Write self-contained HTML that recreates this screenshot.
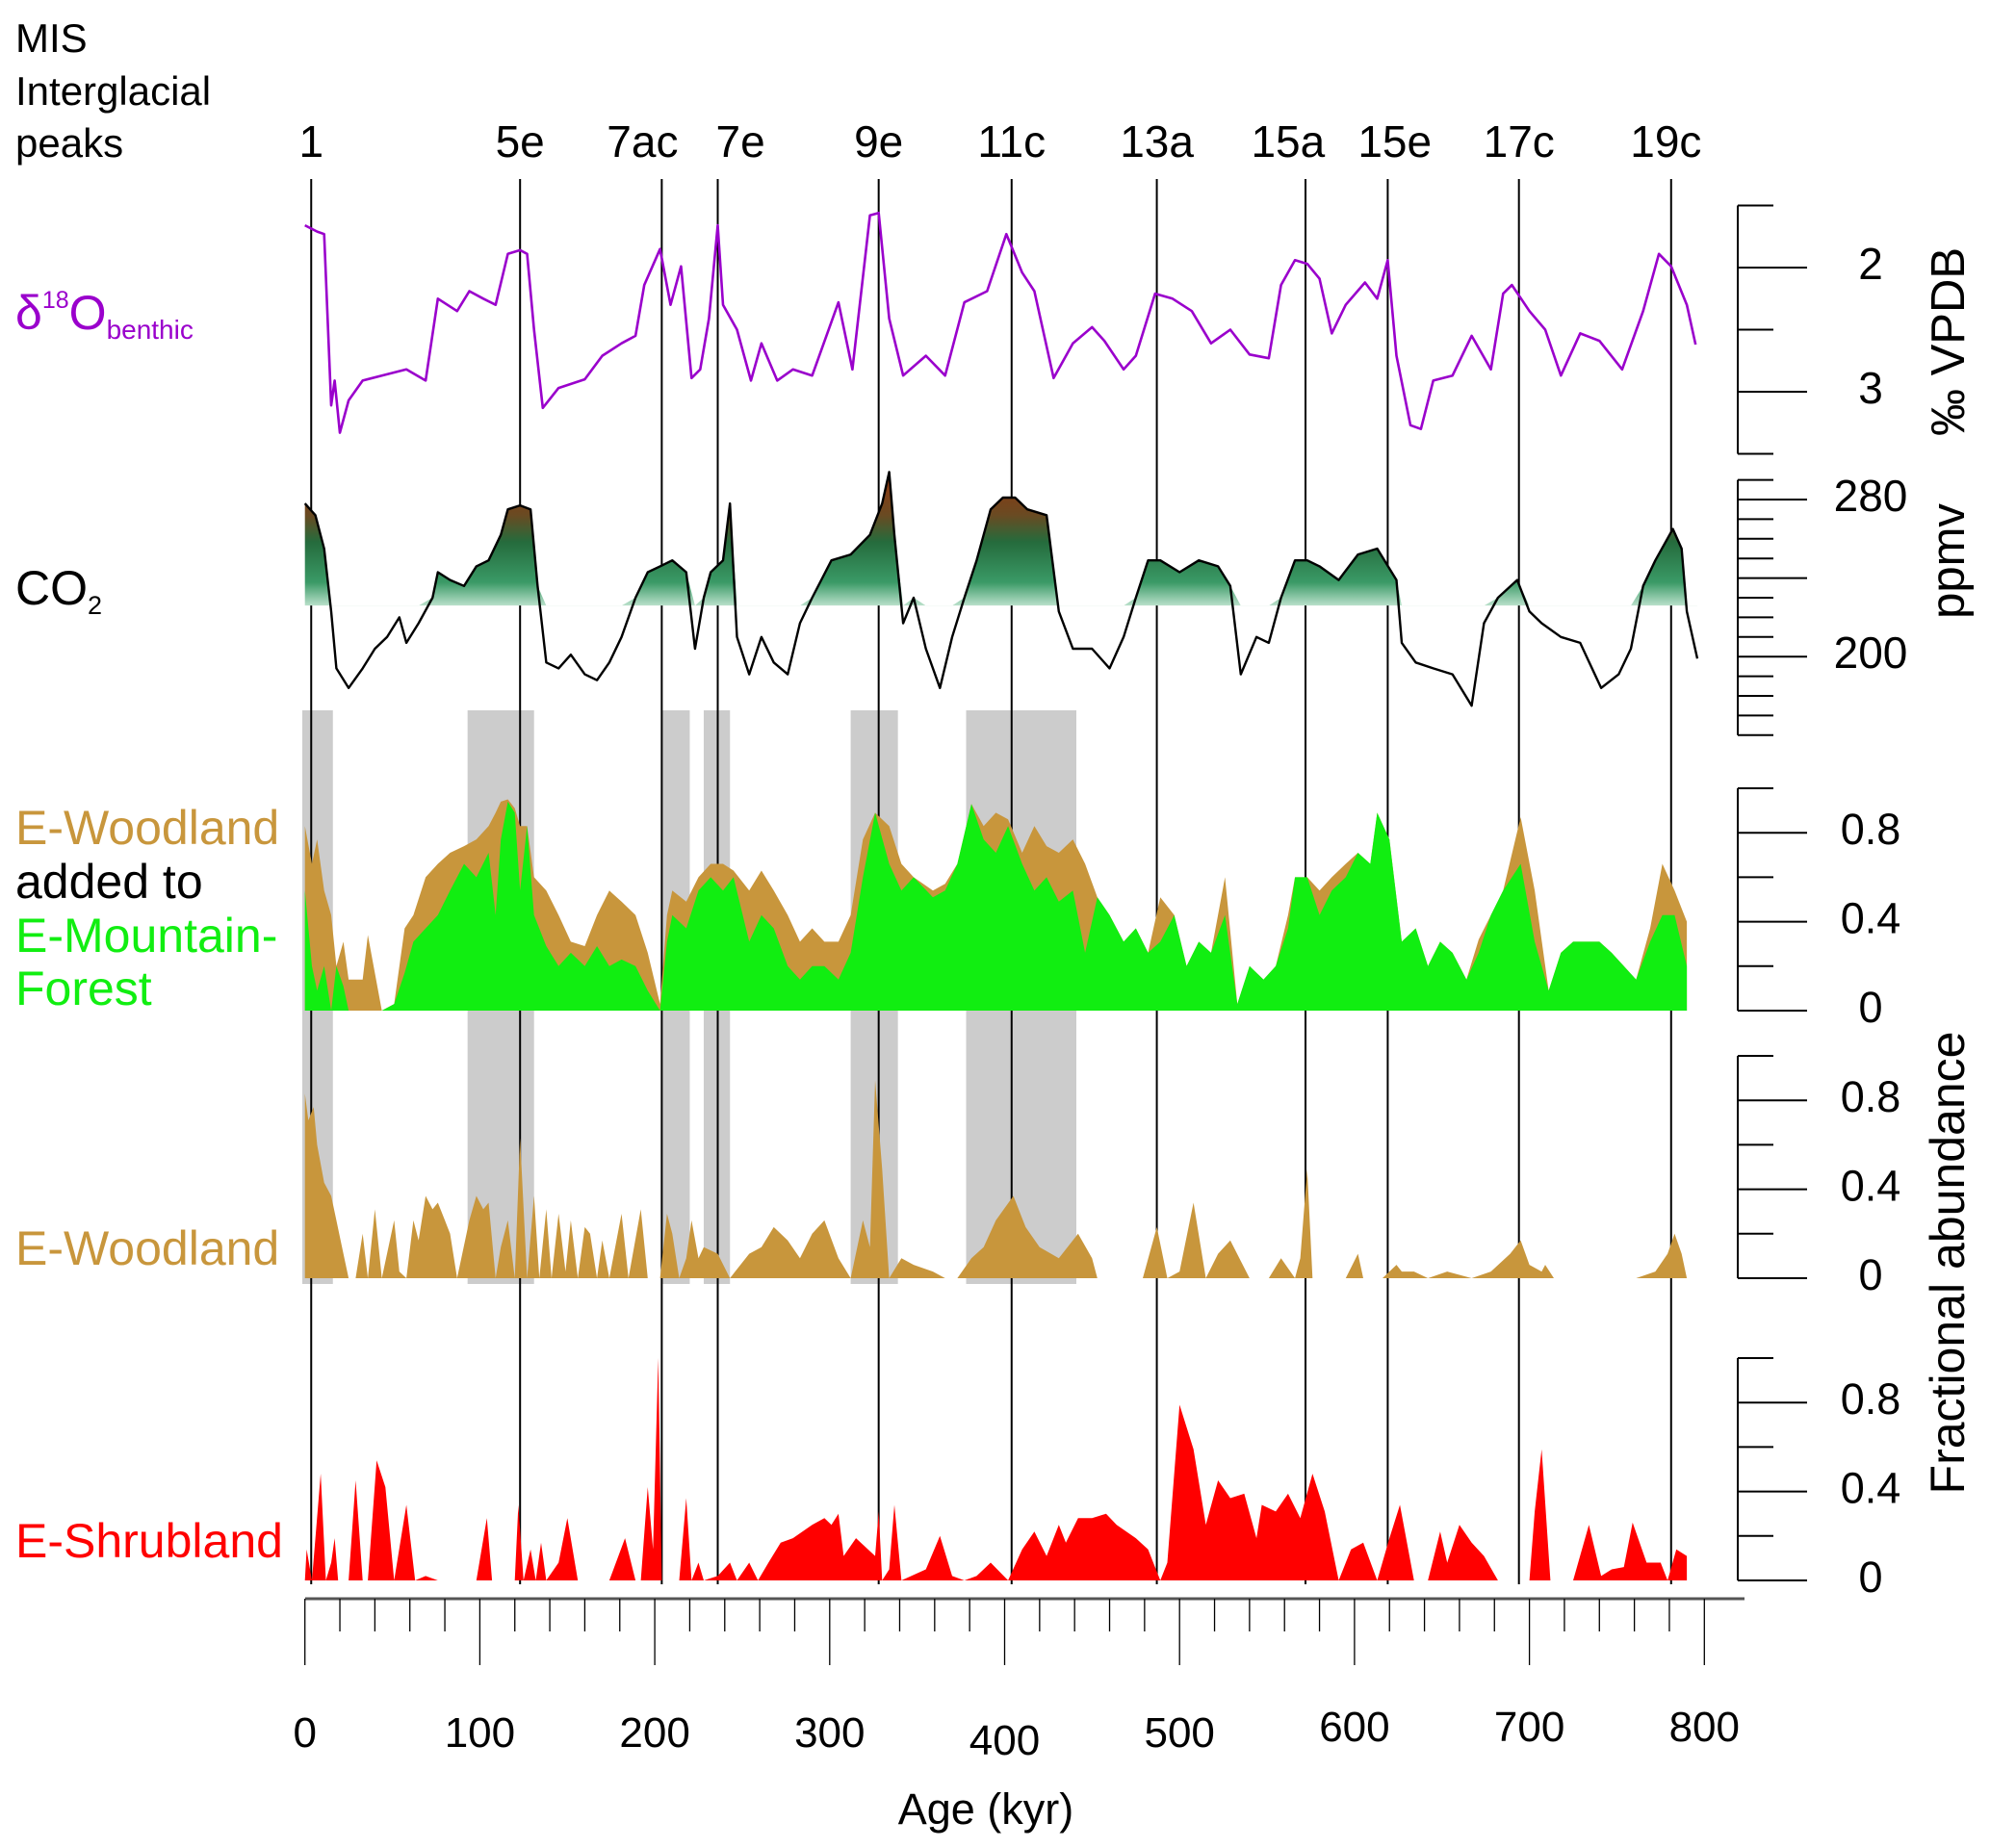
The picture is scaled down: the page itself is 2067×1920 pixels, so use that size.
<!DOCTYPE html>
<html><head><meta charset="utf-8">
<style>
html,body{margin:0;padding:0;background:#fff;}
svg{display:block;font-family:"Liberation Sans",sans-serif;}
</style></head>
<body>
<svg id="chart" width="2067" height="1920" viewBox="0 0 2067 1920" xmlns="http://www.w3.org/2000/svg">
<defs>
<linearGradient id="co2grad" gradientUnits="userSpaceOnUse" x1="0" y1="500" x2="0" y2="640">
<stop offset="0" stop-color="#8a3a12"/>
<stop offset="0.25" stop-color="#6a4a22"/>
<stop offset="0.45" stop-color="#256b3c"/>
<stop offset="0.75" stop-color="#3a9a66"/>
<stop offset="1" stop-color="#f2fff7"/>
</linearGradient>
</defs>
<g id="bands"></g>
<g id="mislines"></g>
<g id="plots"></g>
<g id="axes"></g>
<g font-size="50">
<text x="16" y="54" font-size="42">MIS</text>
<text x="16" y="109" font-size="42">Interglacial</text>
<text x="16" y="163" font-size="42">peaks</text>
<text x="16" y="342" fill="#9a00cc">δ<tspan font-size="25" dy="-22">18</tspan><tspan dy="22">O</tspan><tspan font-size="28" dy="10">benthic</tspan></text>
<text x="16" y="628" fill="#000">CO<tspan font-size="27" dy="10">2</tspan></text>
<text x="16" y="877" fill="#c8963c">E-Woodland</text>
<text x="16" y="933">added to</text>
<text x="16" y="989" fill="#11ee11">E-Mountain-</text>
<text x="16" y="1044" fill="#11ee11">Forest</text>
<text x="16" y="1314" fill="#c8963c">E-Woodland</text>
<text x="16" y="1618" fill="#ff0000">E-Shrubland</text>
</g>
<g font-size="49">
<text transform="translate(2040,355) rotate(-90)" text-anchor="middle">‰ VPDB</text>
<text transform="translate(2040,583) rotate(-90)" text-anchor="middle">ppmv</text>
<text transform="translate(2040,1312) rotate(-90)" text-anchor="middle" font-size="50">Fractional abundance</text>
</g>
<text x="1024" y="1895" font-size="45" text-anchor="middle">Age (kyr)</text>
</svg>
<script>
// ---- data ----
const misNames = ["1","5e","7ac","7e","9e","11c","13a","15a","15e","17c","19c"];
const misAges = [3.6,123,204,236,328,404,487,572,619,694,781];
const misLabelAges = [3.6,123,193,249,328,404,487,562,623,694,778];
const bandStart = [-1.5,93,204,228,312,378];
const bandEnd = [16,131,220,243,339,441];

const d18oAges = [0,7,11,15,17,20,25,33,44,58,69,76,87,94,102,109,116,123,127,131,136,145,160,170,181,189,194,203,209,215,221,226,231,236,239,247,255,261,270,279,290,305,313,323,328,334,342,355,366,377,390,401,410,417,428,439,450,457,468,475,486,496,507,518,529,540,551,558,566,573,580,587,595,606,613,619,624,632,638,645,656,667,678,685,690,700,709,718,729,740,753,765,774,781,790,795];
const d18oVals = [1.66,1.71,1.73,3.11,2.91,3.33,3.07,2.91,2.87,2.82,2.91,2.25,2.35,2.19,2.25,2.30,1.89,1.86,1.89,2.50,3.13,2.97,2.90,2.71,2.61,2.55,2.14,1.85,2.30,1.99,2.89,2.82,2.41,1.66,2.30,2.50,2.91,2.61,2.91,2.82,2.87,2.28,2.82,1.58,1.56,2.41,2.87,2.71,2.87,2.28,2.19,1.73,2.04,2.19,2.89,2.61,2.48,2.59,2.82,2.71,2.21,2.25,2.35,2.61,2.50,2.70,2.73,2.14,1.94,1.97,2.09,2.53,2.30,2.12,2.25,1.94,2.71,3.27,3.30,2.91,2.87,2.55,2.82,2.21,2.14,2.35,2.50,2.87,2.53,2.59,2.82,2.35,1.89,1.99,2.30,2.62];

const co2Ages = [0,6,11,15,18,25,33,40,47,54,58,65,73,76,83,91,98,105,112,116,123,129,133,138,145,152,160,167,174,181,189,196,203,210,218,223,228,232,239,243,247,254,261,268,276,283,290,301,312,323,330,334,337,342,348,355,363,370,377,384,392,399,406,413,424,431,439,450,460,468,475,482,489,500,511,522,529,535,544,551,558,566,573,580,591,602,613,624,627,635,645,656,667,674,682,693,700,707,718,729,741,751,758,765,772,782,787,790,796];
const co2Vals = [278,272,255,223,194,184,194,204,210,220,207,217,230,243,239,236,246,249,262,275,277,275,236,197,194,201,191,188,197,210,230,243,246,249,243,204,230,243,249,278,210,191,210,197,191,217,230,249,252,262,278,294,262,217,230,204,184,210,230,249,275,281,281,275,272,223,204,204,194,210,230,249,249,243,249,246,236,191,210,207,230,249,249,246,239,252,255,239,207,197,194,191,175,217,230,239,223,217,210,207,184,191,204,236,249,265,255,223,199];

const forestAges = [0,4,7,11,15,18,22,25,33,36,44,51,57,62,69,76,83,91,98,105,109,112,116,120,123,127,131,138,145,152,160,167,174,181,189,196,203,207,210,218,225,232,239,245,254,261,268,276,283,290,297,305,312,319,326,334,341,348,359,366,373,381,388,395,402,410,417,424,431,439,446,453,460,468,475,482,489,497,504,511,518,526,533,540,548,555,562,566,573,580,587,595,602,609,613,620,627,635,642,649,656,664,671,678,685,695,703,711,718,725,732,740,747,754,761,769,776,783,790];
const mountainForest = [.54,.20,.09,.20,0,.20,.11,0,0,0,0,.03,.17,.31,.37,.43,.54,.66,.60,.71,.43,.77,.94,.89,.54,.83,.43,.29,.20,.26,.20,.29,.20,.23,.20,.09,0,.31,.43,.37,.54,.60,.54,.60,.31,.43,.37,.20,.14,.20,.20,.14,.26,.60,.89,.66,.54,.60,.51,.54,.66,.93,.77,.71,.83,.66,.54,.60,.49,.54,.26,.51,.43,.31,.37,.26,.31,.43,.20,.31,.26,.43,.03,.20,.14,.20,.37,.60,.60,.43,.54,.60,.71,.66,.89,.77,.31,.37,.20,.31,.26,.14,.26,.43,.54,.66,.31,.09,.26,.31,.31,.31,.26,.20,.14,.31,.43,.43,.20];
const woodlandAdded = [.29,.46,.68,.34,.43,0,.20,.14,.14,.34,0,0,.20,.12,.23,.23,.17,.08,.17,.12,.46,.17,.01,.02,.29,0,.17,.25,.23,.05,.09,.14,.34,.26,.23,.17,.03,.12,.11,.12,.06,.06,.12,.03,.23,.20,.17,.23,.17,.17,.11,.17,.17,.17,0,.17,.12,0,.03,.03,0,0,.06,.18,.03,.05,.29,.14,.22,.23,.40,0,0,0,0,0,.2,0,0,0,0,.17,0,0,0,0,.06,0,0,.11,.06,.06,0,0,0,0,0,0,0,0,0,0,.06,0,0,.21,.23,0,0,0,0,0,0,0,0,.06,.23,.11,.2];

const woodAges = [0,2,5,7,11,15,18,22,25,29,33,36,40,44,51,54,58,62,65,69,73,76,80,83,87,94,98,102,105,109,112,116,120,123,127,131,134,138,141,145,149,152,156,160,163,167,170,174,181,185,192,196,203,207,210,214,218,221,225,228,236,243,254,261,268,276,283,290,297,305,312,319,323,326,330,334,341,348,359,366,373,381,388,395,405,412,420,431,442,450,453,464,479,487,493,500,508,515,522,529,540,551,558,566,569,573,576,595,602,605,616,624,627,634,642,653,667,678,689,695,700,707,709,714,761,772,779,783,787,790];
const woodVals = [.83,.71,.77,.60,.43,.37,.26,.11,0,0,.20,0,.31,0,.26,.03,0,.26,.17,.37,.31,.34,.26,.20,0,.26,.37,.31,.34,0,.14,.26,0,.63,0,.37,0,.31,0,.29,.03,.26,0,.23,.20,0,.17,0,.29,0,.31,0,0,.29,.20,0,.09,.26,.09,.14,.11,0,.11,.14,.23,.17,.09,.20,.26,.09,0,.26,.14,.89,.49,0,.09,.06,.03,0,0,.09,.14,.26,.37,.23,.14,.09,.20,.09,0,0,0,.23,0,.03,.34,0,.11,.17,0,0,.09,0,.09,.49,0,0,.11,0,0,.06,.03,.03,0,.03,0,.03,.11,.17,.06,.03,.06,0,0,.03,.11,.20,.11,0];

const shrubAges = [0,1,4,9,12,15,17,19,25,29,33,36,41,46,51,58,63,69,76,98,104,107,120,122,125,129,132,135,138,145,150,156,174,183,189,192,196,199,202,204,214,218,221,225,228,236,243,247,254,259,265,272,279,290,297,301,305,308,315,326,328,330,334,337,341,355,363,370,377,384,392,402,410,417,424,431,435,442,450,458,464,475,482,489,493,500,508,515,522,529,537,544,547,555,562,569,576,583,591,598,605,613,620,626,634,642,649,653,660,667,674,682,700,703,707,712,725,734,741,747,754,759,767,775,779,784,790];
const shrubVals = [0,.14,0,.48,0,.08,.19,0,0,.45,0,0,.54,.42,0,.34,0,.02,0,0,.28,0,0,.34,0,.14,0,.17,0,.08,.28,0,0,.19,0,0,.42,.14,1.0,0,0,.37,0,.08,0,.02,.08,0,.08,0,.08,.17,.19,.25,.28,.25,.3,.11,.19,.11,.31,0,.05,.34,0,.05,.2,.02,0,.02,.08,0,.14,.22,.11,.25,.17,.28,.28,.3,.25,.19,.14,0,.08,.79,.59,.25,.45,.37,.39,.19,.34,.31,.39,.28,.48,.31,0,.14,.17,0,.19,.34,0,0,.22,.08,.25,.17,.11,0,0,.31,.59,0,0,.25,.02,.05,.06,.26,.08,.08,0,.14,.11];

const xTickLabels = ["0","100","200","300","400","500","600","700","800"];
const d18oTickLabels = ["2","3"];
const co2TickLabels = ["280","200"];
const fracTickLabels = ["0.8","0.4","0"];

// ---- scales ----
const NS = "http://www.w3.org/2000/svg";
const X = a => 316.7 + a * 1.817;
const Yd = v => 278 + (v - 2) * 129;
const Yc = p => 519 + (280 - p) * 2.04;
const P3 = v => 1050 - v * 231;
const P4 = v => 1328 - v * 231;
const P5 = v => 1642 - v * 231;
function mk(tag, attrs, parent){const e=document.createElementNS(NS,tag);for(const k in attrs)e.setAttribute(k,attrs[k]);parent.appendChild(e);return e;}
const bands=document.getElementById('bands'), mis=document.getElementById('mislines'), plots=document.getElementById('plots'), axes=document.getElementById('axes');

for(let i=0;i<bandStart.length;i++){
  const r=mk('rect',{x:X(bandStart[i]),y:738,width:X(bandEnd[i])-X(bandStart[i]),height:596,fill:'#cccccc'},bands);
  
  
}
for(let i=0;i<misAges.length;i++){
  const l=mk('line',{x1:X(misAges[i]),x2:X(misAges[i]),y1:186,y2:1646,stroke:'#000','stroke-width':2},mis);
  
  
  const t=mk('text',{x:X(misLabelAges[i]),y:163,'font-size':46,'text-anchor':'middle'},axes);
  t.textContent=misNames[i];
  
  
}
function area(ages, vals, Y, fill, name){
  let d='M'+X(ages[0])+','+Y(0);
  for(let i=0;i<ages.length;i++) d+='L'+X(ages[i]).toFixed(1)+','+Y(vals[i]).toFixed(1);
  d+='L'+X(ages[ages.length-1])+','+Y(0)+'Z';
  const p=mk('path',{d:d,fill:fill},plots);
  
  
}
const totals = mountainForest.map((v,i)=>v+woodlandAdded[i]);
area(forestAges, totals, P3, '#c8963c', 'woodland-added-area');
area(forestAges, mountainForest, P3, '#11ee11', 'mountain-forest-area');
area(woodAges, woodVals, P4, '#c8963c', 'woodland-area');
area(shrubAges, shrubVals, P5, '#ff0000', 'shrubland-area');

const thr=226;
let fd='M'+X(co2Ages[0])+','+Yc(thr);
for(let i=0;i<co2Ages.length;i++) fd+='L'+X(co2Ages[i]).toFixed(1)+','+Yc(Math.max(co2Vals[i],thr)).toFixed(1);
fd+='L'+X(co2Ages[co2Ages.length-1])+','+Yc(thr)+'Z';
const cf=mk('path',{d:fd,fill:'url(#co2grad)'},plots);


function line(ages, vals, Y, color, w, name){
  const pts=ages.map((a,i)=>X(a).toFixed(1)+','+Y(vals[i]).toFixed(1)).join(' ');
  const p=mk('polyline',{points:pts,fill:'none',stroke:color,'stroke-width':w,'stroke-linejoin':'round'},plots);
  
  
}
line(co2Ages, co2Vals, Yc, '#000', 2.4, 'co2-line');
line(d18oAges, d18oVals, Yd, '#9a00cc', 2.6, 'd18o-line');

function raxis(vals, Y, longSet, labels, labelVals, name, fs){
  const g=mk('g',{},axes);
  
  
  mk('line',{x1:1805,x2:1805,y1:Y(vals[0]),y2:Y(vals[vals.length-1]),stroke:'#000','stroke-width':2},g);
  vals.forEach(v=>{
    const lg=longSet.some(s=>Math.abs(s-v)<1e-6);
    mk('line',{x1:1805,x2:lg?1877:1842,y1:Y(v),y2:Y(v),stroke:'#000','stroke-width':2},g);
  });
  labels.forEach((lab,i)=>{
    const t=mk('text',{x:1943,y:Y(labelVals[i])+12,'font-size':fs,'text-anchor':'middle'},g);
    t.textContent=lab;
  });
}
raxis([1.5,2,2.5,3,3.5], Yd, [2,3], d18oTickLabels, [2,3], 'd18o-axis', 46);
const co2Ticks=[]; for(let p=290;p>=160;p-=10) co2Ticks.push(p);
raxis(co2Ticks, Yc, [280,240,200], co2TickLabels, [280,200], 'co2-axis', 46);
const fr=[1,0.8,0.6,0.4,0.2,0];
raxis(fr, P3, [0.8,0.4,0], fracTickLabels, [0.8,0.4,0], 'forest-axis', 45);
raxis(fr, P4, [0.8,0.4,0], fracTickLabels, [0.8,0.4,0], 'woodland-axis', 45);
raxis(fr, P5, [0.8,0.4,0], fracTickLabels, [0.8,0.4,0], 'shrubland-axis', 45);

const xa=mk('g',{},axes);


mk('line',{x1:317,x2:1812,y1:1661,y2:1661,stroke:'#555','stroke-width':3},xa);
for(let a=0;a<=800;a+=20){
  const maj=a%100===0;
  mk('line',{x1:X(a),x2:X(a),y1:1661,y2:maj?1730:1695,stroke:'#000','stroke-width':1.3},xa);
}
const yOff=[0,0,0,0,8,0,-6,-6,-6];
xTickLabels.forEach((lab,i)=>{
  const t=mk('text',{x:X(i*100),y:1815+yOff[i],'font-size':44,'text-anchor':'middle'},xa);
  t.textContent=lab;
  
  
});
</script>
</body></html>
